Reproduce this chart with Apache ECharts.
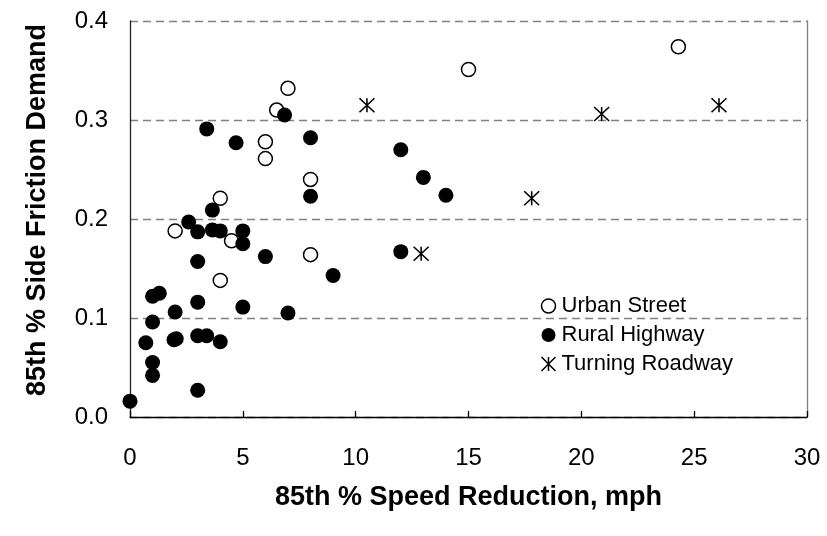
<!DOCTYPE html>
<html><head><meta charset="utf-8">
<script src="https://cdn.jsdelivr.net/npm/echarts@6/dist/echarts.min.js"></script>
<style>html,body{margin:0;padding:0;background:#fff}#c{width:827px;height:536px}</style>
</head><body><div id="c"></div>
<script>
const xTicks = [0, 5, 10, 15, 20, 25, 30];
const yTicks = [0.0, 0.1, 0.2, 0.3, 0.4];
const seriesNames = ['Urban Street', 'Rural Highway', 'Turning Roadway'];
const urbanStreet = [[2,0.188],[4,0.138],[4,0.221],[4.5,0.178],[6,0.278],[6,0.261],[6.5,0.310],[7,0.332],[8,0.240],[8,0.164],[15,0.351],[24.3,0.374]];
const ruralHighway = [[0,0.016],[0.7,0.075],[1,0.042],[1,0.055],[1,0.096],[1,0.122],[1.3,0.125],[1.95,0.078],[2.05,0.079],[2,0.106],[2.6,0.197],[3,0.187],[3,0.157],[3,0.116],[3,0.082],[3,0.027],[3.4,0.082],[3.4,0.291],[3.65,0.209],[3.65,0.189],[4,0.188],[4,0.076],[4.7,0.277],[5,0.188],[5,0.175],[5,0.111],[6,0.162],[6.85,0.305],[7,0.105],[8,0.282],[8,0.223],[9,0.143],[12,0.270],[12,0.167],[13,0.242],[14,0.224]];
const turningRoadway = [[10.5,0.315],[12.9,0.165],[17.8,0.221],[20.9,0.306],[26.1,0.315]];

const FONT = 'Arial, "Liberation Sans", sans-serif';
const STAR = 'path://M0,0 L10,10 M10,0 L0,10 M5,0 L5,10';
const chart = echarts.init(document.getElementById('c'), null, {renderer: 'canvas'});
chart.setOption({
  animation: false,
  backgroundColor: '#fff',
  textStyle: {fontFamily: FONT, color: '#000'},
  grid: {left: 130, right: 20, top: 21, bottom: 119},
  legend: {
    orient: 'vertical', left: 534, top: 290,
    itemWidth: 14, itemHeight: 14, itemGap: 7,
    textStyle: {fontFamily: FONT, fontSize: 22, color: '#000', padding: [0,0,0,1]},
    data: [
      {name: seriesNames[0], icon: 'circle', itemStyle: {color: '#fff', borderColor: '#000', borderWidth: 1.5}},
      {name: seriesNames[1], icon: 'circle', itemStyle: {color: '#000'}},
      {name: seriesNames[2], icon: STAR, itemStyle: {color: 'none', borderColor: '#000', borderWidth: 1.5}}
    ]
  },
  xAxis: {
    type: 'value', min: xTicks[0], max: xTicks[xTicks.length-1], interval: 5,
    name: '85th % Speed Reduction, mph', nameLocation: 'middle', nameGap: 67,
    nameTextStyle: {fontFamily: FONT, fontSize: 27, fontWeight: 'bold', color: '#000'},
    axisLine: {show: true, onZero: false, lineStyle: {color: '#000', width: 1.3}},
    axisTick: {show: true, inside: true, length: 6, lineStyle: {color: '#000', width: 1.3}},
    axisLabel: {fontFamily: FONT, fontSize: 24, color: '#000', margin: 29},
    splitLine: {show: false}
  },
  yAxis: [{
    type: 'value', min: yTicks[0], max: yTicks[yTicks.length-1], interval: 0.1,
    name: '85th % Side Friction Demand', nameLocation: 'middle', nameGap: 79,
    nameTextStyle: {fontFamily: FONT, fontSize: 27, fontWeight: 'bold', color: '#000', padding: [0,0,0,18]},
    axisLine: {show: true, onZero: false, lineStyle: {color: '#222', width: 1.3}},
    axisTick: {show: false},
    axisLabel: {fontFamily: FONT, fontSize: 24, color: '#000', margin: 22, formatter: v => v.toFixed(1)},
    splitLine: {show: true, lineStyle: {color: '#808080', width: 1.3, type: [8, 5]}}
  }, {
    type: 'value', position: 'right', min: yTicks[0], max: yTicks[yTicks.length-1], interval: 0.1,
    axisLine: {show: true, onZero: false, lineStyle: {color: '#808080', width: 1.3}},
    axisTick: {show: false}, axisLabel: {show: false}, splitLine: {show: false}
  }],
  series: [
    {name: seriesNames[0], type: 'scatter', data: urbanStreet, symbol: 'circle', symbolSize: 14,
     itemStyle: {color: '#fff', borderColor: '#000', borderWidth: 1.5, opacity: 1}},
    {name: seriesNames[1], type: 'scatter', data: ruralHighway, symbol: 'circle', symbolSize: 15,
     itemStyle: {color: '#000', opacity: 1}},
    {name: seriesNames[2], type: 'scatter', data: turningRoadway, symbol: STAR, symbolSize: [15, 14],
     itemStyle: {color: 'none', borderColor: '#000', borderWidth: 1.5, opacity: 1}}
  ]
});
</script></body></html>
